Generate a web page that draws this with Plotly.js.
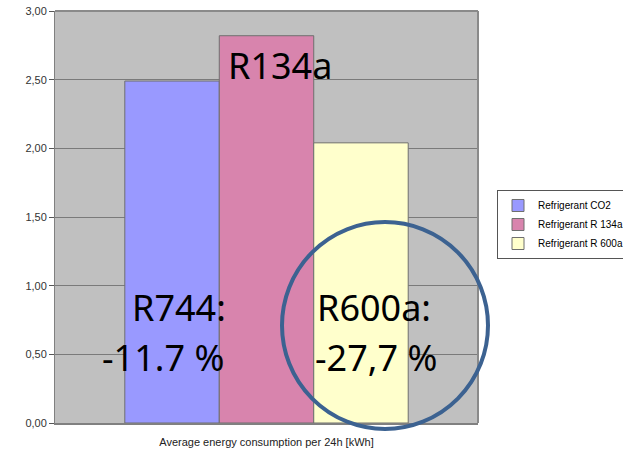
<!DOCTYPE html>
<html>
<head>
<meta charset="utf-8">
<script src="https://cdn.plot.ly/plotly-3.0.1.min.js"></script>
<style>
  html, body { margin: 0; padding: 0; background: #ffffff; overflow: hidden; }
  #chart { width: 623px; height: 455px; overflow: hidden; }
</style>
</head>
<body>
<div id="chart"></div>
<script>
// Average energy consumption per 24h, one bar per refrigerant
const category = ['Average energy consumption per 24h [kWh]'];
const seriesNames = ['Refrigerant CO2', 'Refrigerant R 134a', 'Refrigerant R 600a'];
const seriesValues = [2.49, 2.82, 2.04];
const seriesColors = ['#9999ff', '#d884ad', '#ffffcc'];
const yTicks = [0, 0.5, 1, 1.5, 2, 2.5, 3];

// the figure runs a little past the visible 623px so the legend is cut at the edge
const VIEW_W = 623, W = 700, H = 455;
const M = { l: 55, r: W - VIEW_W, t: 11, b: 32 };
const PAPER_W = VIEW_W - M.l, PH = H - M.t - M.b;
const PLOT_RIGHT = 478;                       // right edge of the grey plot area
const DOMAIN_END = (PLOT_RIGHT - M.l) / PAPER_W;
// pixel -> paper helpers for the overlay text, ring and legend
const px = x => (x - M.l) / PAPER_W;
const py = y => (H - M.b - y) / PH;

const traces = seriesNames.map((name, i) => ({
  type: 'bar',
  name: name,
  x: category,
  y: [seriesValues[i]],
  marker: { color: seriesColors[i], line: { color: '#6f6f6f', width: 1 } },
  hoverinfo: 'skip'
}));

const bigFont = { family: 'Noto Sans, Liberation Sans, sans-serif', size: 36, color: '#000000' };
function label(text, x, y, anchor) {
  return { text: text, xref: 'paper', yref: 'paper', x: px(x), y: py(y),
           xanchor: anchor, yanchor: 'middle', showarrow: false, font: bigFont };
}

const layout = {
  width: W, height: H,
  margin: M,
  paper_bgcolor: '#ffffff',
  plot_bgcolor: '#c0c0c0',
  separators: ', ',
  barmode: 'group',
  bargap: 0.33,
  bargroupgap: 0,
  font: { family: 'Liberation Sans, Arial, sans-serif', size: 11, color: '#000000' },
  xaxis: {
    domain: [0, DOMAIN_END],
    showticklabels: false,
    ticks: '',
    showline: true, linecolor: '#808080', linewidth: 2,
    title: { text: category[0], standoff: 14,
             font: { family: 'Liberation Sans, Arial, sans-serif', size: 11, color: '#222222' } },
    fixedrange: true
  },
  yaxis: {
    range: [0, 3],
    tickvals: yTicks,
    tickformat: '.2f',
    ticks: 'outside', ticklen: 5, tickcolor: '#555555', tickwidth: 1,
    showline: true, linecolor: '#808080', linewidth: 1,
    showgrid: true, gridcolor: '#7a7a7a', gridwidth: 1,
    zeroline: false,
    tickfont: { family: 'Liberation Sans, Arial, sans-serif', size: 11, color: '#333333' },
    fixedrange: true
  },
  showlegend: true,
  legend: {
    x: px(497), y: py(190), xanchor: 'left', yanchor: 'top',
    bgcolor: '#ffffff', bordercolor: '#555555', borderwidth: 1,
    font: { family: 'Liberation Sans, Arial, sans-serif', size: 10, color: '#000000' },
    tracegroupgap: 0, itemwidth: 30
  },
  shapes: [
    // frame of the plot area on the top and right
    { type: 'line', xref: 'x domain', yref: 'y domain', x0: 0, x1: 1, y0: 1, y1: 1,
      line: { color: '#8a8a8a', width: 2 } },
    { type: 'line', xref: 'x domain', yref: 'y domain', x0: 1, x1: 1, y0: 0, y1: 1,
      line: { color: '#8a8a8a', width: 2 } },
    // ring around the R600a result
    { type: 'circle', xref: 'paper', yref: 'paper', layer: 'above',
      x0: px(282), x1: px(488), y0: py(429), y1: py(222),
      line: { color: '#3c6291', width: 4 }, fillcolor: 'rgba(0,0,0,0)' }
  ],
  annotations: [
    label('R134a', 280, 65, 'center'),
    label('R744:', 130, 307, 'left'),
    label('-11.7 %', 100, 357, 'left'),
    label('R600a:', 315, 307, 'left'),
    label('-27,7 %', 313, 357, 'left')
  ]
};

Plotly.newPlot('chart', traces, layout, { displayModeBar: false, staticPlot: true });
</script>
</body>
</html>
